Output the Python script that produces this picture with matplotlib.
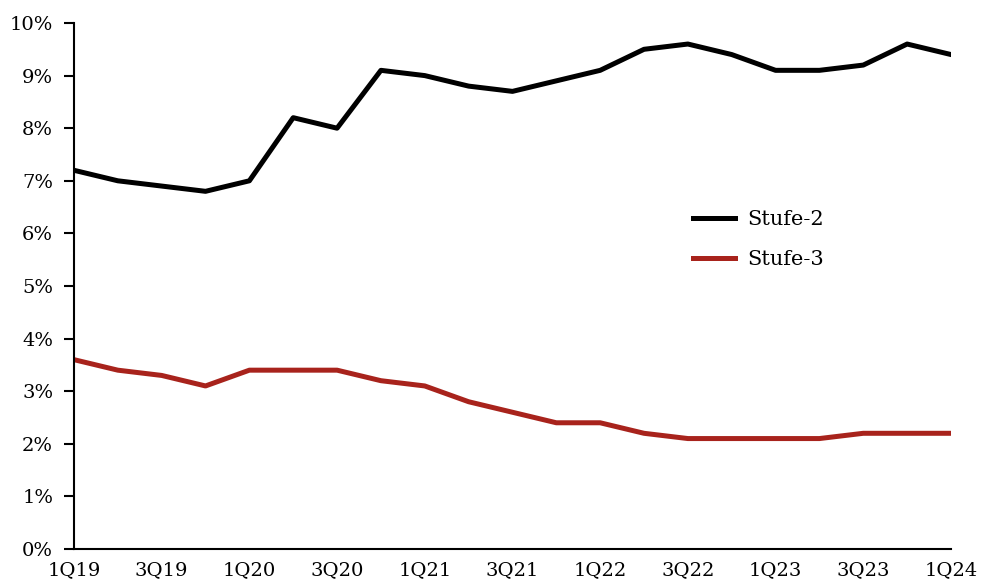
import numpy as np
import matplotlib
matplotlib.use("Agg")
import matplotlib.pyplot as plt
from matplotlib.ticker import PercentFormatter

quarters = ["1Q19", "2Q19", "3Q19", "4Q19", "1Q20", "2Q20", "3Q20", "4Q20",
            "1Q21", "2Q21", "3Q21", "4Q21", "1Q22", "2Q22", "3Q22", "4Q22",
            "1Q23", "2Q23", "3Q23", "4Q23", "1Q24"]
stufe2 = [7.2, 7.0, 6.9, 6.8, 7.0, 8.2, 8.0, 9.1, 9.0, 8.8, 8.7, 8.9,
          9.1, 9.5, 9.6, 9.4, 9.1, 9.1, 9.2, 9.6, 9.4]
stufe3 = [3.6, 3.4, 3.3, 3.1, 3.4, 3.4, 3.4, 3.2, 3.1, 2.8, 2.6, 2.4,
          2.4, 2.2, 2.1, 2.1, 2.1, 2.1, 2.2, 2.2, 2.2]

plt.rcParams["font.family"] = ["DejaVu Serif"]
plt.rcParams["font.size"] = 14

fig = plt.figure(figsize=(9.81, 5.85), dpi=100)
ax = fig.add_axes([0.0754, 0.0615, 0.894, 0.8992])

x = np.arange(len(quarters))
ax.plot(x, stufe2, color="black", lw=3.6, label="Stufe-2")
ax.plot(x, stufe3, color="#A8231C", lw=3.6, label="Stufe-3")

ax.set_xlim(0, len(quarters) - 1)
ax.set_ylim(0, 10)
ax.set_yticks(range(0, 11))
ax.yaxis.set_major_formatter(PercentFormatter(decimals=0))
ax.set_xticks(x[::2])
ax.set_xticklabels(quarters[::2])

for side in ["top", "right"]:
    ax.spines[side].set_visible(False)
for side in ["left", "bottom"]:
    ax.spines[side].set_linewidth(1.5)
ax.tick_params(axis="y", direction="out", length=7, width=1.5, pad=8)
ax.tick_params(axis="x", length=0, pad=9)

ax.legend(loc="upper left", bbox_to_anchor=(0.685, 0.68), frameon=False,
          handlelength=2.0, handletextpad=0.6, labelspacing=1.0, fontsize=15)

fig.savefig("out.png", dpi=100, facecolor="white")
